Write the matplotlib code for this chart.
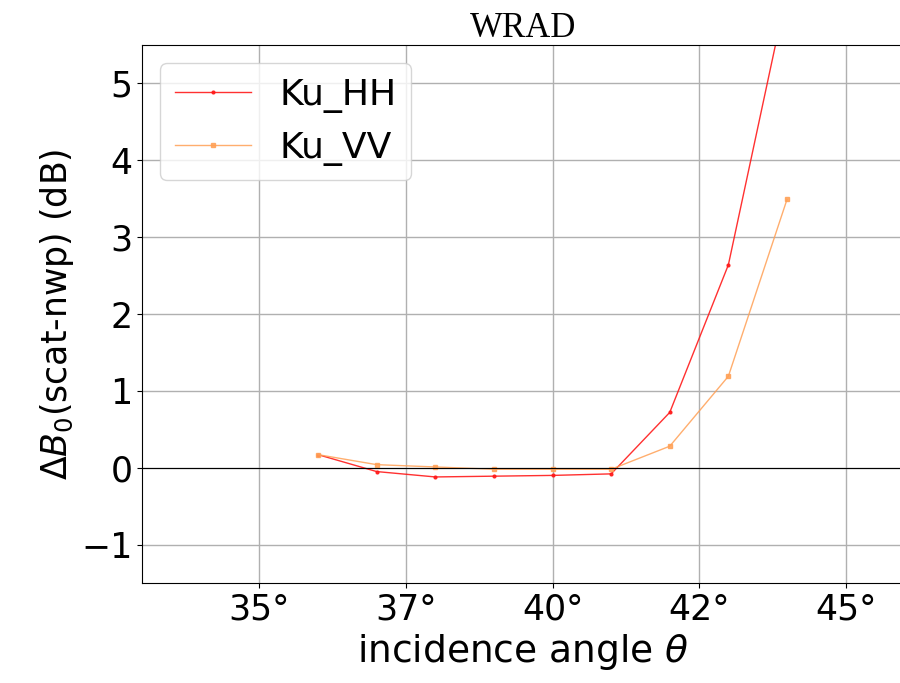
import matplotlib
matplotlib.use("Agg")
import matplotlib.pyplot as plt
from matplotlib.ticker import FuncFormatter

# incidence angle bins (deg) and mean sigma0 bias per polarisation
angles = [36, 37, 38, 39, 40, 41, 42, 43, 44]
ku_hh = [0.17, -0.05, -0.12, -0.11, -0.10, -0.08, 0.72, 2.64, 6.2]
ku_vv = [0.17, 0.04, 0.01, -0.02, -0.02, -0.02, 0.28, 1.19, 3.49]
xticks = [35, 37.5, 40, 42.5, 45]

fig = plt.figure(figsize=(9, 6.83), dpi=100)
ax = fig.add_axes([0.158, 0.1464, 0.8467, 0.7877])

ax.plot(angles, ku_hh, "-", marker=".", markersize=4, color="#ff1a1a", lw=1, alpha=0.9, label="Ku_HH")
ax.plot(angles, ku_vv, "-", marker="s", markersize=3, color="#ffa055", lw=1, alpha=0.85, label="Ku_VV")
ax.axhline(0, color="black", lw=0.8)

ax.set_xlim(33, 46)
ax.set_ylim(-1.5, 5.5)
ax.set_xticks(xticks)
ax.xaxis.set_major_formatter(FuncFormatter(lambda x, pos: f"{int(x)}°"))
ax.tick_params(labelsize=25)
ax.grid(True, color="#b0b0b0", lw=1)

ax.set_xlabel(r"incidence angle $\theta$", fontsize=27)
ax.set_ylabel(r"$\Delta B_0$(scat-nwp) (dB)", fontsize=25)
ax.set_title("WRAD", family="Liberation Serif", fontsize=25)

ax.legend(loc="upper left", fontsize=26, handlelength=2.1)

fig.savefig("out.png", dpi=100)
